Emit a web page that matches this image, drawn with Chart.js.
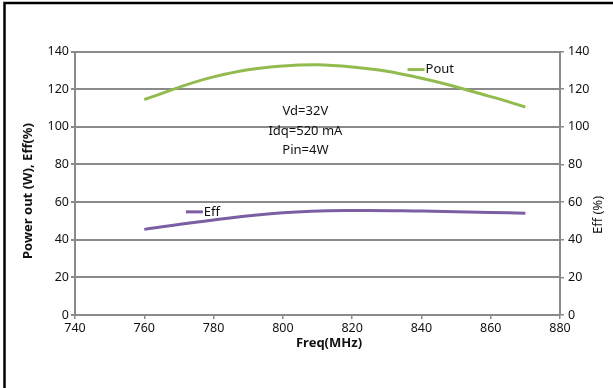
<!DOCTYPE html>
<html><head><meta charset="utf-8">
<script src="https://cdn.jsdelivr.net/npm/chart.js@4/dist/chart.umd.min.js"></script>
<style>html,body{margin:0;padding:0;background:#fff}#wrap{width:613px;height:388px}</style>
</head><body><div id="wrap"><canvas id="c" width="613" height="388"></canvas></div>
<script>
const freqs = [760, 780, 800, 820, 840, 860, 870];
const pout = [114.5, 126.5, 132.3, 131.8, 125.8, 116, 110.5];
const eff = [45.5, 50.5, 54.3, 55.5, 55.2, 54.5, 54.1];
const seriesNames = ['Pout', 'Eff'];
const seriesLabelFreq = [836, 772];
const seriesLabelVal = [130.4, 54.8];
const noteLines = ['Vd=32V', 'Idq=520 mA', 'Pin=4W'];
const noteFreq = 806.5;
const noteVal = 108;
const yTicks = [0, 20, 40, 60, 80, 100, 120, 140];
const xTicks = [740, 760, 780, 800, 820, 840, 860, 880];
const colors = ['#92bb4f', '#7b5ea3'];
const FONT = '"Noto Sans", "Open Sans", sans-serif';

const extras = {
  id: 'extras',
  beforeDraw(chart) {
    const ctx = chart.ctx;
    ctx.save();
    ctx.fillStyle = '#fff';
    ctx.fillRect(0, 0, chart.width, chart.height);
    ctx.restore();
  },
  afterDraw(chart) {
    const ctx = chart.ctx, xs = chart.scales.x, ys = chart.scales.y;
    ctx.save();
    ctx.strokeStyle = '#000';
    ctx.lineWidth = 2.5;
    ctx.strokeRect(4.5, 3, 700, 500);
    ctx.font = '13px ' + FONT;
    ctx.textBaseline = 'middle';
    ctx.textAlign = 'left';
    seriesNames.forEach((n, i) => {
      const px = xs.getPixelForValue(seriesLabelFreq[i]);
      const py = ys.getPixelForValue(seriesLabelVal[i]);
      ctx.strokeStyle = colors[i];
      ctx.lineWidth = 3;
      ctx.beginPath(); ctx.moveTo(px, py); ctx.lineTo(px + 17, py); ctx.stroke();
      ctx.fillStyle = '#111';
      ctx.fillText(n, px + 18, py);
    });
    ctx.textAlign = 'center';
    const nx = xs.getPixelForValue(noteFreq);
    const ny = ys.getPixelForValue(noteVal);
    noteLines.forEach((t, i) => ctx.fillText(t, nx, ny + i * 19.5));
    ctx.font = 'bold 13px ' + FONT;
    ctx.fillText('Freq(MHz)', 329, 343);
    ctx.save();
    ctx.translate(28, 191);
    ctx.rotate(-Math.PI / 2);
    ctx.fillText('Power out (W), Eff(%)', 0, 0);
    ctx.restore();
    ctx.font = '13px ' + FONT;
    ctx.save();
    ctx.translate(598, 215);
    ctx.rotate(-Math.PI / 2);
    ctx.fillText('Eff (%)', 0, 0);
    ctx.restore();
    ctx.restore();
  }
};

const tickFont = { family: FONT, size: 12.5 };
new Chart(document.getElementById('c'), {
  type: 'line',
  data: {
    datasets: [
      { label: seriesNames[0], data: freqs.map((f, i) => ({ x: f, y: pout[i] })), borderColor: colors[0], borderWidth: 3, yAxisID: 'y' },
      { label: seriesNames[1], data: freqs.map((f, i) => ({ x: f, y: eff[i] })), borderColor: colors[1], borderWidth: 3, yAxisID: 'y' }
    ]
  },
  options: {
    responsive: false, animation: false,
    layout: { padding: { left: 0, right: 0, top: 51.5, bottom: 0 } },
    elements: { point: { radius: 0 }, line: { tension: 0.4, fill: false } },
    plugins: { legend: { display: false }, tooltip: { enabled: false } },
    scales: {
      x: {
        type: 'linear', min: 740, max: 880,
        afterBuildTicks: s => { s.ticks = xTicks.map(v => ({ value: v })); },
        afterFit: s => { s.height = 73; },
        grid: { drawOnChartArea: false, drawTicks: true, tickLength: 4, color: '#8a8a8a', lineWidth: 1.5 },
        border: { color: '#8a8a8a', width: 2 },
        ticks: { color: '#111', font: tickFont, padding: 2, maxRotation: 0 }
      },
      y: {
        position: 'left', min: 0, max: 140,
        afterBuildTicks: s => { s.ticks = yTicks.map(v => ({ value: v })); },
        afterFit: s => { s.width = 75; },
        grid: { drawOnChartArea: true, drawTicks: true, tickLength: 4, color: '#8a8a8a', lineWidth: 2 },
        border: { color: '#8a8a8a', width: 2 },
        ticks: { color: '#111', font: tickFont, padding: 2 }
      },
      y2: {
        position: 'right', min: 0, max: 140,
        afterBuildTicks: s => { s.ticks = yTicks.map(v => ({ value: v })); },
        afterFit: s => { s.width = 53; },
        grid: { drawOnChartArea: false, drawTicks: true, tickLength: 4, color: '#8a8a8a', lineWidth: 1.5 },
        border: { color: '#8a8a8a', width: 2 },
        ticks: { color: '#111', font: tickFont, padding: 4 }
      }
    }
  },
  plugins: [extras]
});
</script></body></html>
